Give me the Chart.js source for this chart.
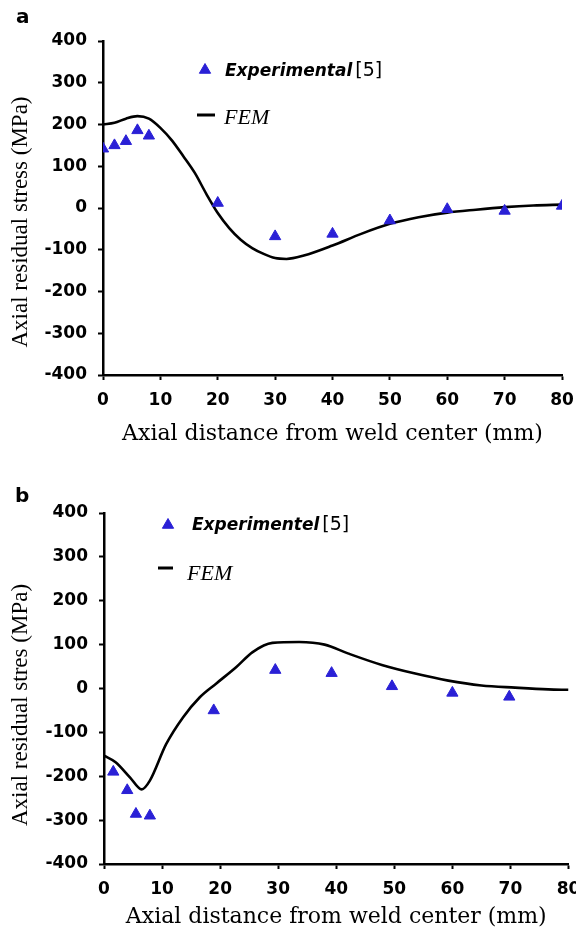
<!DOCTYPE html>
<html>
<head>
<meta charset="utf-8">
<script src="https://cdn.jsdelivr.net/npm/chart.js@4.4.1/dist/chart.umd.min.js"></script>
<style>
  html, body { margin: 0; padding: 0; background: #fff; }
  body { width: 576px; height: 932px; position: relative; overflow: hidden; }
  canvas { position: absolute; left: 0; }
  #chartA { top: 0; }
  #chartB { top: 466px; }
</style>
</head>
<body>
<canvas id="chartA" width="576" height="447"></canvas>
<canvas id="chartB" width="576" height="464"></canvas>
<script>
// panel a - experimental points and FEM curve
const xA_exp = [0, 2, 4, 6, 8, 20, 30, 40, 50, 60, 70, 80];
const yA_exp = [142, 150, 160, 186, 173, 12, -68, -62, -30, -3, -7, 5];
const xA_fem = [0, 2, 4, 6, 8, 10, 12, 14, 16, 18, 20, 22, 24, 26, 28, 30, 32, 35, 40, 45, 50, 55, 60, 65, 70, 75, 80];
const yA_fem = [200, 204, 214, 220, 214, 192, 162, 124, 84, 34, -12, -48, -76, -96, -110, -120, -122, -114, -90, -62, -38, -22, -11, -4, 2, 6, 8];

// panel b
const xB_exp = [1.6, 4, 5.5, 7.9, 18.9, 29.5, 39.2, 49.6, 60, 69.8];
const yB_exp = [-190, -232, -286, -290, -50, 42, 35, 5, -10, -19];
const xB_fem = [0, 2, 4.5, 6.5, 7.9, 10.7, 13.6, 16.5, 19.3, 22.8, 25.6, 29, 33.6, 38, 42, 48, 53.6, 59.3, 65, 70.8, 76.5, 80];
const yB_fem = [-153, -168, -203, -230, -210, -127, -66, -20, 11, 49, 83, 104, 106, 100, 80, 53, 34, 18, 7, 2, -2, -3];

// axes
const xRange = [0, 80];
const yRange = [-400, 400];
const xStep = 10;
const yStep = 100;

const BLUE = 'rgb(42,32,214)';

const toPoints = (xs, ys) => xs.map((x, i) => ({ x: x, y: ys[i] }));

// letters, rotated y title and the little legend
const extras = {
  id: 'extras',
  afterDraw(chart, args, o) {
    const ctx = chart.ctx;
    ctx.save();
    ctx.fillStyle = '#000';
    ctx.textBaseline = 'alphabetic';
    ctx.textAlign = 'left';

    ctx.font = 'bold 20px "DejaVu Sans"';
    ctx.fillText(o.letter, o.letterPos[0], o.letterPos[1]);

    ctx.save();
    ctx.translate(o.yTitlePos[0], o.yTitlePos[1]);
    ctx.rotate(-Math.PI / 2);
    ctx.textAlign = 'center';
    ctx.textBaseline = 'middle';
    ctx.font = '23px "Liberation Serif"';
    ctx.fillText(o.yTitle, 0, 0);
    ctx.restore();

    // experimental entry
    ctx.fillStyle = BLUE;
    ctx.strokeStyle = BLUE;
    Chart.helpers.drawPoint(ctx, { pointStyle: 'triangle', radius: 6.5, borderWidth: 1, rotation: 0 }, o.markPos[0], o.markPos[1]);
    ctx.fillStyle = '#000';
    ctx.font = 'italic bold 17px "DejaVu Sans"';
    ctx.fillText(o.expText, o.expPos[0], o.expPos[1]);
    const w = ctx.measureText(o.expText).width;
    ctx.font = '19px "DejaVu Sans"';
    ctx.fillText('[5]', o.expPos[0] + w + 3, o.expPos[1]);

    // FEM entry
    ctx.strokeStyle = '#000';
    ctx.lineWidth = 3;
    ctx.beginPath();
    ctx.moveTo(o.femLine[0], o.femLine[2]);
    ctx.lineTo(o.femLine[1], o.femLine[2]);
    ctx.stroke();
    ctx.font = 'italic 22px "Liberation Serif"';
    ctx.fillText('FEM', o.femPos[0], o.femPos[1]);
    ctx.restore();
  }
};

function buildChart(id, p) {
  const tickFont = { family: 'DejaVu Sans', size: 17, weight: 'bold' };
  const grid = { drawOnChartArea: false, drawTicks: true, tickLength: 5, tickColor: '#000', tickWidth: 2 };
  const border = { color: '#000', width: 2.5 };

  return new Chart(document.getElementById(id), {
    type: 'scatter',
    data: {
      datasets: [
        {
          label: p.expText,
          data: toPoints(p.expX, p.expY),
          pointStyle: 'triangle',
          pointRadius: 6.5,
          backgroundColor: BLUE,
          borderColor: BLUE,
          borderWidth: 1,
          order: 0
        },
        {
          label: 'FEM',
          data: toPoints(p.femX, p.femY),
          showLine: true,
          borderColor: '#000',
          borderWidth: 2.6,
          pointRadius: 0,
          cubicInterpolationMode: 'monotone',
          order: 1
        }
      ]
    },
    options: {
      responsive: false,
      animation: false,
      layout: { padding: { left: 0, top: p.top, right: p.right, bottom: 0 } },
      plugins: {
        legend: { display: false },
        tooltip: { enabled: false },
        extras: p.extras
      },
      scales: {
        x: {
          type: 'linear',
          min: xRange[0],
          max: xRange[1],
          ticks: { stepSize: xStep, color: '#000', font: tickFont, padding: p.xTickPad, maxRotation: 0, autoSkip: false },
          grid: grid,
          border: border,
          title: {
            display: true,
            text: 'Axial distance from weld center (mm)',
            color: '#000',
            font: { family: 'DejaVu Serif', size: 22 },
            padding: { top: 4, bottom: 0 }
          },
          afterFit(s) {
            s.height = p.xH;
            s.paddingLeft = 0;
            s.paddingRight = 0;
          }
        },
        y: {
          min: yRange[0],
          max: yRange[1],
          ticks: { stepSize: yStep, color: '#000', font: tickFont, padding: 11 },
          grid: grid,
          border: border,
          afterFit(s) {
            s.width = p.yW;
          }
        }
      }
    },
    plugins: [extras]
  });
}

buildChart('chartA', {
  expX: xA_exp, expY: yA_exp, femX: xA_fem, femY: yA_fem,
  expText: 'Experimental',
  top: 41, right: 14, yW: 103, xH: 72, xTickPad: 10,
  extras: {
    letter: 'a', letterPos: [16, 23],
    yTitle: 'Axial residual stress (MPa)', yTitlePos: [21, 222],
    expText: 'Experimental', markPos: [205, 70], expPos: [225, 76],
    femLine: [197, 215, 115], femPos: [224, 124]
  }
});

buildChart('chartB', {
  expX: xB_exp, expY: yB_exp, femX: xB_fem, femY: yB_fem,
  expText: 'Experimentel',
  top: 47, right: 6, yW: 104, xH: 66, xTickPad: 10,
  extras: {
    letter: 'b', letterPos: [15, 36],
    yTitle: 'Axial residual stres (MPa)', yTitlePos: [21, 239],
    expText: 'Experimentel', markPos: [168, 59], expPos: [192, 64],
    femLine: [158, 173, 102], femPos: [187, 114]
  }
});
</script>
</body>
</html>
